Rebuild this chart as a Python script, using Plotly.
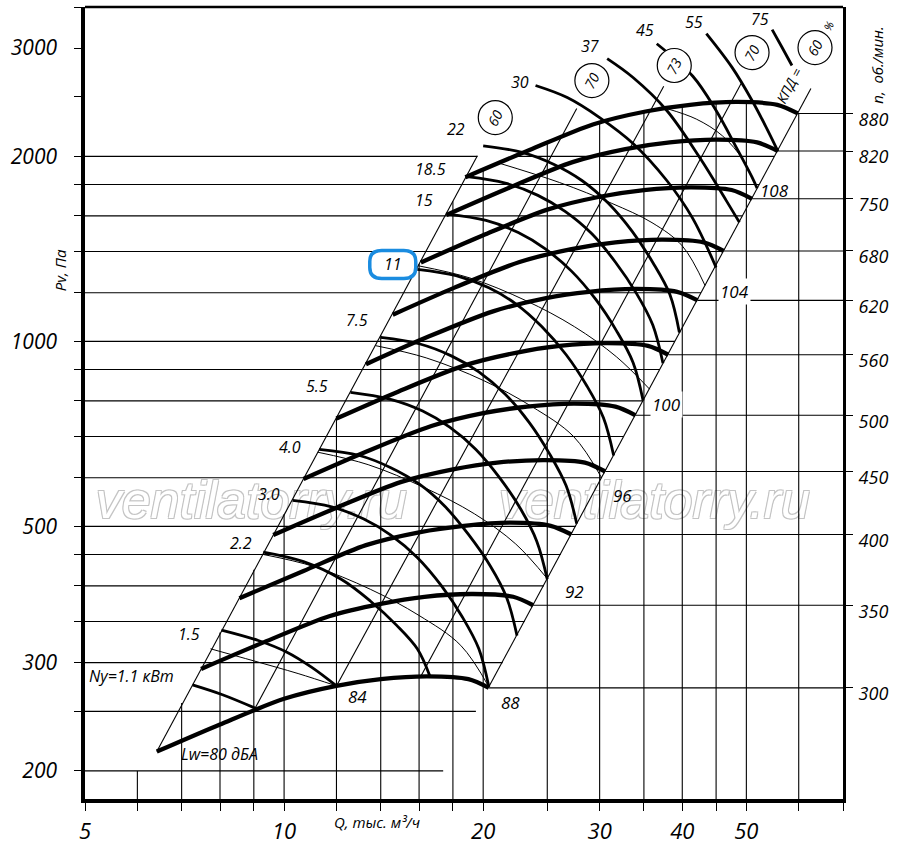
import numpy as np
import plotly.graph_objects as go

FONT = "Open Sans"

# axis extents: Q in thousand m3/h, Pv in Pa
q_lim = [5, 70]
p_lim = [180, 3500]

# fan pressure curves (thick), one per speed n, rpm
rpm = [300, 350, 400, 450, 500, 560, 620, 680, 750, 820, 880]
rpm_q = [
    [6.42, 8.0, 10.0, 12.0, 14.0, 16.5, 19.0, 20.4],
    [7.49, 9.33, 11.7, 14.0, 16.3, 19.3, 22.2, 23.8],
    [8.56, 10.7, 13.3, 16.0, 18.7, 22.0, 25.3, 27.2],
    [9.63, 12.0, 15.0, 18.0, 21.0, 24.8, 28.5, 30.6],
    [10.7, 13.3, 16.7, 20.0, 23.3, 27.5, 31.7, 34.0],
    [12.0, 14.9, 18.7, 22.4, 26.1, 30.8, 35.5, 38.1],
    [13.3, 16.5, 20.7, 24.8, 28.9, 34.1, 39.3, 42.2],
    [14.6, 18.1, 22.7, 27.2, 31.7, 37.4, 43.1, 46.2],
    [16.1, 20.0, 25.0, 30.0, 35.0, 41.3, 47.5, 51.0],
    [17.6, 21.9, 27.3, 32.8, 38.3, 45.1, 51.9, 55.8],
    [18.8, 23.5, 29.3, 35.2, 41.1, 48.4, 55.7, 59.8],
]
rpm_p = [
    [215, 238, 262, 275, 282, 285, 282, 273],
    [293, 324, 357, 374, 384, 388, 384, 372],
    [382, 423, 466, 489, 501, 507, 501, 485],
    [484, 536, 590, 619, 635, 641, 635, 614],
    [597, 661, 728, 764, 783, 792, 783, 758],
    [749, 829, 913, 958, 983, 993, 983, 951],
    [918, 1017, 1119, 1175, 1204, 1217, 1204, 1166],
    [1105, 1223, 1346, 1413, 1449, 1464, 1449, 1403],
    [1344, 1488, 1638, 1719, 1763, 1781, 1763, 1706],
    [1606, 1778, 1957, 2055, 2107, 2129, 2107, 2040],
    [1850, 2048, 2254, 2366, 2426, 2452, 2426, 2349],
]

# shaft power curves Ny, kW
power_kw = ["1.1", "1.5", "2.2", "3.0", "4.0", "5.5", "7.5", "11", "15",
            "18.5", "22", "30", "37", "45", "55", "75"]
power_q = [
    [7.27, 8.07, 9.04],
    [8.04, 9.14, 10.1, 11.0, 12.0],
    [9.3, 10.7, 12.2, 13.5, 14.8, 15.9, 16.6],
    [10.3, 11.8, 13.2, 14.5, 15.9, 17.3, 18.6, 19.7, 20.4],
    [11.3, 13.0, 14.5, 16.0, 17.5, 19.0, 20.5, 21.7, 22.5],
    [12.6, 14.4, 16.2, 17.8, 19.5, 21.2, 22.8, 24.1, 25.0],
    [14.0, 16.0, 17.9, 19.7, 21.6, 23.5, 25.2, 26.7, 27.7],
    [15.9, 18.2, 20.4, 22.4, 24.5, 26.7, 28.7, 30.4, 31.5],
    [17.6, 20.2, 22.6, 24.8, 27.2, 29.6, 31.8, 33.7, 34.9],
    [18.9, 21.6, 24.2, 26.6, 29.2, 31.7, 34.1, 36.1, 37.4],
    [20.0, 22.9, 25.6, 28.2, 30.9, 33.6, 36.1, 38.3, 39.6],
    [24.0, 26.8, 30.0, 33.7, 37.9, 41.4, 45.0],
    [30.8, 33.7, 37.9, 42.5, 46.6, 48.8],
    [36.6, 41.5, 45.0, 48.3, 51.0, 51.9],
    [43.5, 47.6, 51.0, 53.6, 55.8],
    [54.7, 56.6, 58.6],
]
power_p = [
    [276, 266, 253],
    [339, 326, 312, 295, 275],
    [454, 438, 410, 378, 345, 316, 286],
    [551, 538, 514, 484, 445, 400, 356, 316, 274],
    [667, 652, 623, 586, 539, 485, 431, 383, 332],
    [826, 806, 770, 725, 667, 599, 533, 473, 410],
    [1015, 991, 947, 892, 820, 737, 656, 582, 505],
    [1310, 1279, 1222, 1151, 1058, 951, 846, 751, 652],
    [1611, 1573, 1503, 1415, 1301, 1170, 1041, 924, 801],
    [1853, 1809, 1728, 1627, 1496, 1345, 1197, 1063, 921],
    [2080, 2030, 1940, 1827, 1679, 1510, 1344, 1193, 1034],
    [2608, 2493, 2313, 2099, 1827, 1591, 1319],
    [2884, 2687, 2375, 1991, 1696, 1562],
    [3050, 2700, 2375, 2067, 1850, 1775],
    [3168, 2789, 2466, 2228, 2040],
    [3215, 3010, 2811],
]
# label positions of the power curves
power_lab_q = [5.88, 7.19, 8.61, 9.49, 10.2, 11.2, 12.88, 14.6, 16.3,
               16.65, 18.2, 22.7, 29.0, 35.1, 41.6, 52.5]
power_lab_p = [285, 334, 469, 564, 672, 845, 1082, 1334, 1696,
               1911, 2220, 2647, 3029, 3216, 3314, 3352]

# sound power level curves Lw, dBA (thin)
lw_db = ["84", "88", "92", "96", "100", "104", "108"]
lw_q = [
    [7.74, 9.0, 10.5, 12.0],
    [9.3, 11.1, 13.5, 16.0, 18.5, 20.4],
    [11.25, 13.4, 16.3, 19.4, 22.4, 25.0],
    [13.75, 16.4, 20.0, 23.7, 27.4, 30.2],
    [15.97, 19.1, 23.2, 27.5, 31.8, 35.7],
    [21.0, 26.1, 31.3, 36.0, 40.0, 43.3],
    [37.9, 42.0, 46.0, 49.5, 51.9],
]
lw_p = [
    [316, 302, 288, 275],
    [450, 430, 395, 358, 320, 274],
    [660, 630, 578, 524, 468, 411],
    [984, 940, 864, 783, 700, 600],
    [1327, 1268, 1165, 1056, 944, 836],
    [1954, 1813, 1677, 1560, 1430, 1233],
    [2392, 2300, 2160, 1970, 1775],
]
lw_lab_q = [12.9, 21.98, 27.5, 32.5, 37.8, 47.9, 55.1]
lw_lab_p = [264, 258, 392, 562, 790, 1206, 1760]

# efficiency lines KPD, % (straight in log-log)
eff_pct = ["60", "70", "73", "70", "60"]
eff_q = [[6.42, 19.6], [9.04, 27.7], [12.0, 37.5], [16.1, 49.1], [20.4, 62.6]]
eff_p = [[215, 2005], [253, 2393], [275, 2600], [285, 2627], [274, 2579]]
eff_lab_q = [20.86, 29.2, 38.9, 51.0, 63.5]
eff_lab_p = [2313, 2657, 2811, 2951, 3006]

# grid: pressure lines and where they stop on the right
grid_p = [200, 250, 300, 350, 400, 450, 500, 600, 700, 800, 900,
          1000, 1200, 1400, 1600, 1800, 2000]
grid_p_end = [17.4, 19.5, 21.4, 23.1, 24.7, 26.2, 27.6, 30.2, 32.6, 34.9, 37.0,
              39.0, 42.7, 46.1, 49.3, 52.3, 19.6]
grid_p_upper = [2000]
grid_p_upper_q = [[22.3, 55.1]]
# grid: flow lines and where they stop at the top
grid_q = [6, 7, 8, 9, 10, 12, 14, 16, 18, 20, 25, 30, 35, 40, 45, 50, 60]
grid_q_top = [200, 258, 336, 425, 523, 752, 1023, 1336, 1690, 1905, 2120,
              2265, 2363, 2418, 2445, 2450, 2345]

x_ticks = [5, 6, 7, 8, 9, 10, 12, 14, 16, 18, 20, 25, 30, 35, 40, 45, 50, 60, 70]
x_labels = ["5", "", "", "", "", "10", "", "", "", "", "20", "", "30", "", "40", "", "50", "", ""]
y_ticks = [200, 250, 300, 350, 400, 450, 500, 600, 700, 800, 900, 1000,
           1200, 1400, 1600, 1800, 2000, 2500, 3000, 3500]
y_labels = ["200", "", "300", "", "", "", "500", "", "", "", "", "1000",
            "", "", "", "", "2000", "", "3000", ""]

# watermark positions (Q, Pv)
mark_q = [8.92, 36.3]
mark_p = [541, 541]


def segs(pairs):
    xs, ys = [], []
    for x, y in pairs:
        xs += list(x) + [None]
        ys += list(y) + [None]
    return xs, ys


def note(text, q, p, size=16, **kw):
    return dict(x=np.log10(q), y=np.log10(p), xref="x", yref="y", text=text,
                showarrow=False, font=dict(family=FONT, size=size, color="black", style="italic"), **kw)


fig = go.Figure()

# watermark sits under every line
halo = "-1px -1px 0 #c4c4c4, 1px -1px 0 #c4c4c4, -1px 1px 0 #c4c4c4, 1px 1px 0 #c4c4c4"
fig.add_trace(go.Scatter(x=mark_q, y=mark_p, mode="text", text=["ventilatorry.ru"] * 2,
                         textposition="middle center",
                         textfont=dict(family="Liberation Sans", size=52, color="white",
                                       style="italic", shadow=halo)))

# grid lines
hx, hy = segs([([q_lim[0], e], [p, p]) for p, e in zip(grid_p, grid_p_end)]
              + [(qq, [p, p]) for p, qq in zip(grid_p_upper, grid_p_upper_q)])
fig.add_trace(go.Scatter(x=hx, y=hy, mode="lines", line=dict(color="black", width=1.1)))
vx, vy = segs([([q, q], [p_lim[0], t]) for q, t in zip(grid_q, grid_q_top)])
fig.add_trace(go.Scatter(x=vx, y=vy, mode="lines", line=dict(color="black", width=1.1)))

# speed lines to the right axis
rx, ry = segs([([q[-1], q_lim[1]], [p[-1], p[-1]]) for q, p in zip(rpm_q, rpm_p)])
fig.add_trace(go.Scatter(x=rx, y=ry, yaxis="y2", mode="lines", line=dict(color="black", width=1.1)))

# efficiency lines
ex, ey = segs(zip(eff_q, eff_p))
fig.add_trace(go.Scatter(x=ex, y=ey, mode="lines", line=dict(color="black", width=1.1)))

# Lw curves
for q, p in zip(lw_q, lw_p):
    fig.add_trace(go.Scatter(x=q, y=p, mode="lines",
                             line=dict(color="black", width=1.0, shape="spline", smoothing=1)))

# power curves
for q, p in zip(power_q, power_p):
    fig.add_trace(go.Scatter(x=q, y=p, mode="lines",
                             line=dict(color="black", width=2.8, shape="spline", smoothing=1)))

# pressure curves
for q, p in zip(rpm_q, rpm_p):
    fig.add_trace(go.Scatter(x=q, y=p, mode="lines",
                             line=dict(color="black", width=4.3, shape="spline", smoothing=0.8)))

# circles behind the efficiency labels
fig.add_trace(go.Scatter(x=eff_lab_q, y=eff_lab_p, mode="markers",
                         marker=dict(size=34, color="white", line=dict(color="black", width=1.2))))

ann = []
for t, q, p in zip(power_kw, power_lab_q, power_lab_p):
    ann.append(note("Ny=1.1 кВт" if t == "1.1" else t, q, p))
ann.append(note("Lw=80 дБА", 7.98, 213))
for t, q, p in zip(lw_db, lw_lab_q, lw_lab_p):
    ann.append(note(t, q, p, size=17, bgcolor="white" if t in ("100", "104") else None))
for t, q, p in zip(eff_pct, eff_lab_q, eff_lab_p):
    ann.append(note(t, q, p, size=14, textangle=-62))
ann.append(note("КПД =", 58.0, 2608, size=14, textangle=-62))
ann.append(note("%", 66.6, 3264, size=11, textangle=-62))

shapes = []
# highlight box round the "11" label
shapes.append(dict(type="path", xref="x", yref="y", xsizemode="pixel", ysizemode="pixel",
                   xanchor=14.6, yanchor=1334,
                   path="M -11,-14 L 11,-14 Q 23,-14 23,-3 L 23,3 Q 23,14 11,14 L -11,14 "
                        "Q -23,14 -23,3 L -23,-3 Q -23,-14 -11,-14 Z",
                   line=dict(color="#1a8ce0", width=3.5), layer="above"))
# top frame
shapes.append(dict(type="line", xref="paper", yref="paper", x0=0, x1=1, y0=1, y1=1,
                   line=dict(color="black", width=2.5)))

# axis titles
ann.append(dict(x=np.log10(13.8), y=-0.029, xref="x", yref="paper", text="Q, тыс. м³/ч",
                xanchor="center", yanchor="middle", showarrow=False,
                font=dict(family=FONT, size=15, color="black", style="italic")))
ann.append(dict(x=-0.033, y=np.log10(1305), xref="paper", yref="y", text="Pv, Па", textangle=-90,
                xanchor="center", yanchor="middle", showarrow=False,
                font=dict(family=FONT, size=15, color="black", style="italic")))
ann.append(dict(x=1.045, y=np.log10(2820), xref="paper", yref="y", text="n,  об./мин.", textangle=-90,
                xanchor="center", yanchor="middle", showarrow=False,
                font=dict(family=FONT, size=15, color="black", style="italic")))

tick_font = dict(family=FONT, size=21, color="black", style="italic")
fig.update_layout(
    template="none",
    width=900, height=844, autosize=False,
    margin=dict(l=85, r=57, t=7, b=45, pad=0),
    paper_bgcolor="white", plot_bgcolor="white",
    showlegend=False, hovermode=False,
    xaxis=dict(type="log", range=[np.log10(q_lim[0]), np.log10(q_lim[1])], automargin=False,
               tickvals=x_ticks, ticktext=x_labels, ticks="outside", ticklen=8, tickwidth=1.2,
               tickcolor="black", showgrid=False, zeroline=False, showline=True, linewidth=3.5,
               linecolor="black", tickfont=dict(tick_font, size=22), ticklabelstandoff=2),
    yaxis=dict(type="log", range=[np.log10(p_lim[0]), np.log10(p_lim[1])], automargin=False,
               tickvals=y_ticks, ticktext=y_labels, ticks="outside", ticklen=7, tickwidth=1.2,
               tickcolor="black", showgrid=False, zeroline=False, showline=True, linewidth=3.5,
               linecolor="black", tickfont=tick_font, ticklabelstandoff=13),
    yaxis2=dict(type="log", range=[np.log10(p_lim[0]), np.log10(p_lim[1])], overlaying="y", side="right",
                automargin=False, tickvals=[p[-1] for p in rpm_p], ticktext=[str(n) for n in rpm],
                ticks="outside", ticklen=7, tickwidth=1.2, tickcolor="black",
                showgrid=False, zeroline=False, showline=True, linewidth=3, linecolor="black",
                tickfont=dict(tick_font, size=18), ticklabelshift=6, ticklabelstandoff=2),
    annotations=ann,
    shapes=shapes,
)

fig.write_html("out.html", config={"displayModeBar": False},
               post_script="document.body.style.margin='0';")
